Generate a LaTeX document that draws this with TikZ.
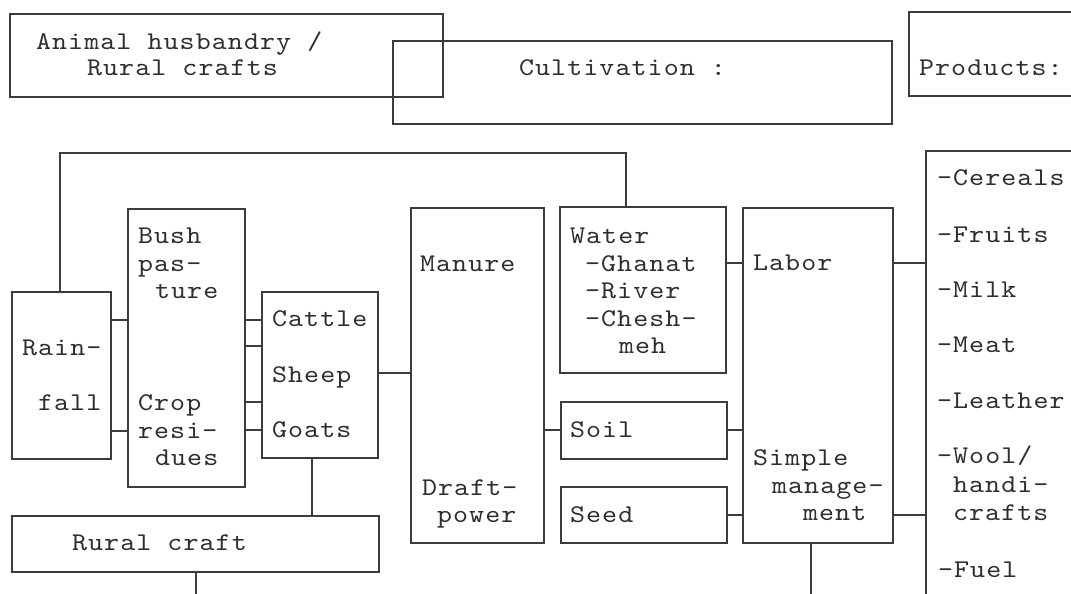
\documentclass[tikz,border=0pt]{standalone}
\usepackage{fontspec}
\newfontfamily\monofam[FakeStretch=1.12,LetterSpace=4.3]{lmmono10-regular.otf}
\newcommand\txtfont{\monofam\fontsize{25.5}{27.5}\selectfont}
\definecolor{ink}{HTML}{3C3C3C}
\definecolor{txtink}{HTML}{2E2E2E}
\tikzset{
  box/.style={draw=ink, line width=1.6pt, inner sep=0pt, outer sep=0pt, anchor=north west},
  txt/.style={anchor=base west, inner sep=0pt, outer sep=0pt, font=\txtfont, text=txtink},
  wire/.style={draw=ink, line width=1.6pt}
}
\newcommand\bx[5]{\node[box, minimum width={#4-#2}, minimum height={#5-#3}] (#1) at (#2,#3) {};}
\begin{document}
\begin{tikzpicture}[x=1pt,y=-1pt]
\useasboundingbox (0,0) rectangle (1071,594);
\fill[white] (0,0) rectangle (1071,594);
\clip (0,0) rectangle (1071,594);

% header boxes
\bx{hdranimal}{10}{14}{443}{97}
\bx{hdrcult}{393}{41}{892}{124}
\bx{hdrprod}{909}{12}{1090}{96}

% main boxes
\bx{rain}{12}{292}{111}{459}
\bx{bush}{128}{209}{245}{487}
\bx{herd}{262}{292}{378}{458}
\bx{rural}{12}{516}{379}{572}
\bx{manure}{411}{208}{544}{543}
\bx{water}{560}{207}{726}{373}
\bx{soil}{561}{402}{727}{459}
\bx{seed}{561}{487}{727}{543}
\bx{labor}{743}{208}{893}{543}
\bx{prod}{926}{151}{1090}{620}

% header texts
\node[txt] (t1) at (36,49) {Animal husbandry /};
\node[txt] (t2) at (87,76) {Rural crafts};
\node[txt] (t3) at (519,75) {Cultivation :};
\node[txt] (t4) at (919,75) {Products:};

% rainfall
\node[txt] (r1) at (22,355) {Rain-};
\node[txt] (r2) at (38,410) {fall};
% bush / crop
\node[txt] (b1) at (138,243) {Bush};
\node[txt] (b2) at (138,271) {pas-};
\node[txt] (b3) at (155,298) {ture};
\node[txt] (b4) at (138,410) {Crop};
\node[txt] (b5) at (138,438) {resi-};
\node[txt] (b6) at (155,465) {dues};
% herd
\node[txt] (h1) at (272,326) {Cattle};
\node[txt] (h2) at (272,382) {Sheep};
\node[txt] (h3) at (272,437) {Goats};
% rural craft
\node[txt] (rc) at (72,550) {Rural craft};
% manure
\node[txt] (m1) at (420,271) {Manure};
\node[txt] (m2) at (422,495) {Draft-};
\node[txt] (m3) at (437,522) {power};
% water
\node[txt] (w1) at (570,243) {Water};
\node[txt] (w2) at (585,271) {-Ghanat};
\node[txt] (w3) at (585,298) {-River};
\node[txt] (w4) at (585,326) {-Chesh-};
\node[txt] (w5) at (619,353) {meh};
% soil, seed
\node[txt] (s1) at (570,437) {Soil};
\node[txt] (s2) at (570,522) {Seed};
% labor
\node[txt] (l1) at (753,270) {Labor};
\node[txt] (l2) at (753,465) {Simple};
\node[txt] (l3) at (772,493) {manage-};
\node[txt] (l4) at (803,520) {ment};
% products
\node[txt] (p1) at (937,185) {-Cereals};
\node[txt] (p2) at (937,242) {-Fruits};
\node[txt] (p3) at (937,297) {-Milk};
\node[txt] (p4) at (937,352) {-Meat};
\node[txt] (p5) at (937,408) {-Leather};
\node[txt] (p6) at (937,463) {-Wool/};
\node[txt] (p7) at (953,492) {handi-};
\node[txt] (p8) at (953,520) {crafts};
\node[txt] (p9) at (938,577) {-Fuel};

% connectors
\coordinate (c1) at (60,153);
\coordinate (c2) at (626,153);
\draw[wire] (rain.north -| c1) -- (c1) -- (c2) -- (water.north -| c2);

\draw[wire] (rain.east |- 0,320) -- (bush.west |- 0,320);
\draw[wire] (rain.east |- 0,431) -- (bush.west |- 0,431);

\draw[wire] (bush.east |- 0,320) -- (herd.west |- 0,320);
\draw[wire] (bush.east |- 0,346) -- (herd.west |- 0,346);
\draw[wire] (bush.east |- 0,402) -- (herd.west |- 0,402);
\draw[wire] (bush.east |- 0,430) -- (herd.west |- 0,430);

\draw[wire] (herd.east |- 0,373) -- (manure.west |- 0,373);
\draw[wire] (herd.south -| 312,0) -- (rural.north -| 312,0);

\coordinate (c3) at (196,600);
\draw[wire] (rural.south -| c3) -- (c3);

\draw[wire] (manure.east |- 0,430) -- (soil.west |- 0,430);

\draw[wire] (water.east |- 0,263) -- (labor.west |- 0,263);
\draw[wire] (soil.east |- 0,430) -- (labor.west |- 0,430);
\draw[wire] (seed.east |- 0,515) -- (labor.west |- 0,515);

\draw[wire] (labor.east |- 0,263) -- (prod.west |- 0,263);
\draw[wire] (labor.east |- 0,515) -- (prod.west |- 0,515);

\coordinate (c4) at (811,600);
\draw[wire] (labor.south -| c4) -- (c4);
\end{tikzpicture}
\end{document}
